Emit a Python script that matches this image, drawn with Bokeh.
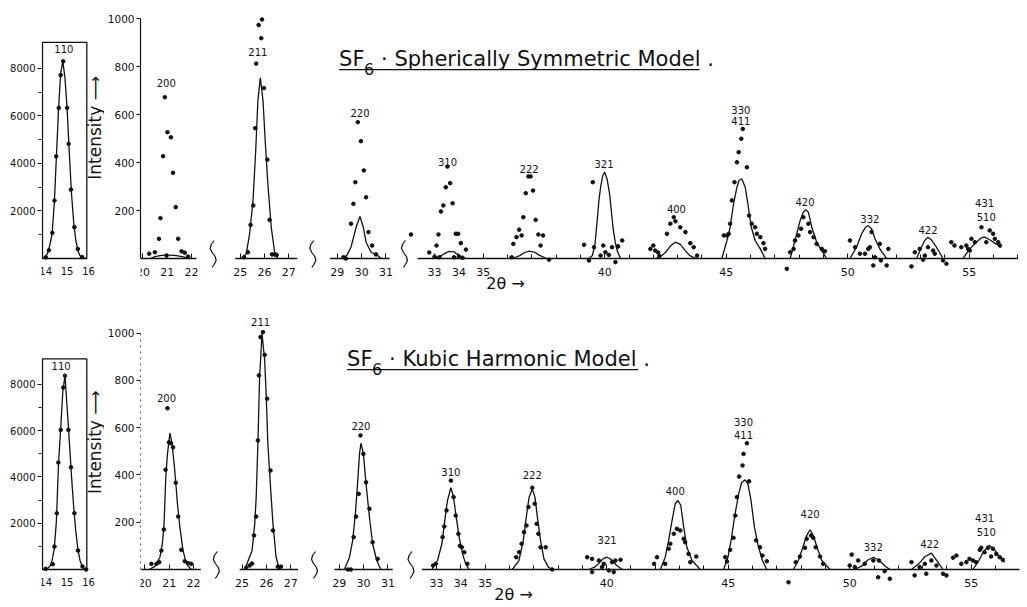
import math
from bokeh.plotting import figure
from bokeh.layouts import row, column
from bokeh.models import Range1d, FixedTicker
from bokeh.core.properties import value
from bokeh.embed import file_html
from bokeh.resources import INLINE

FONT = "DejaVu Sans"
INK = "#111111"

# ----------------------------------------------------------------- data
# 110 reflection (insets): fitted curve and observed points
SSM_110_FIT_X = [13.9, 14.0, 14.1, 14.2, 14.3, 14.4, 14.5, 14.6, 14.7, 14.8, 14.9, 15.0, 15.1, 15.2, 15.3, 15.4, 15.5, 15.6, 15.7, 15.8, 15.9]
SSM_110_FIT_Y = [0, 60, 250, 600, 1050, 2300, 4300, 6300, 7800, 8300, 7600, 6300, 4500, 2800, 1600, 800, 350, 120, 40, 10, 0]
SSM_110_OBS_X = [14.0, 14.15, 14.31, 14.41, 14.49, 14.61, 14.70, 14.82, 15.00, 15.07, 15.18, 15.34, 15.50, 15.70]
SSM_110_OBS_Y = [50, 350, 1080, 2440, 4300, 6340, 7720, 8300, 6340, 4830, 2900, 1320, 400, 60]

KHM_110_FIT_X = [13.9, 14.0, 14.1, 14.2, 14.3, 14.4, 14.5, 14.6, 14.7, 14.8, 14.9, 15.0, 15.1, 15.2, 15.3, 15.4, 15.5, 15.6, 15.7, 15.8, 15.9]
KHM_110_FIT_Y = [0, 20, 50, 150, 400, 900, 2100, 4600, 6100, 7700, 8370, 7000, 5600, 4100, 2800, 1700, 900, 400, 150, 40, 0]
KHM_110_OBS_X = [14.0, 14.33, 14.41, 14.52, 14.59, 14.70, 14.82, 14.90, 15.06, 15.18, 15.34, 15.51, 15.72, 15.89]
KHM_110_OBS_Y = [30, 230, 990, 2430, 4620, 6030, 7860, 8370, 6030, 4420, 2430, 820, 130, 0]

INSET_X_TICKS = [14, 15, 16]
INSET_Y_TICKS = [2000, 4000, 6000, 8000]
INSET_Y_MINOR = [1000, 3000, 5000, 7000]
MAIN_Y_TICKS = [200, 400, 600, 800, 1000]

# x-axis tick labels (2θ, degrees)
X_TICKS = [20, 21, 22, 25, 26, 27, 29, 30, 31, 33, 34, 35, 40, 45, 50, 55]
X_MINOR = [36, 37, 38, 39, 41, 42, 43, 44, 46, 47, 48, 49, 51, 52, 53, 54, 56, 57]

HKL = ["200", "211", "220", "310", "222", "321", "400", "330", "411", "420", "332", "422", "431", "510"]

# --- Spherically symmetric model (top)
SSM_FIT_X = [
    [20.3, 20.5, 20.7, 20.9, 21.1, 21.3, 21.5, 21.7, 21.9],
    [25.05, 25.25, 25.39, 25.53, 25.64, 25.73, 25.83, 25.94, 26.03, 26.14, 26.28, 26.42, 26.55],
    [29.2, 29.4, 29.56, 29.77, 29.93, 30.07, 30.18, 30.39, 30.66, 30.8],
    [32.9, 33.2, 33.4, 33.6, 33.8, 34.0, 34.3],
    [36.2, 36.5, 36.7, 36.9, 37.1, 37.3, 37.6],
    [39.35, 39.49, 39.6, 39.69, 39.76, 39.83, 39.92, 40.0, 40.1, 40.2, 40.27, 40.34, 40.43, 40.51, 40.65],
    [42.1, 42.3, 42.5, 42.7, 42.9, 43.1, 43.3, 43.5, 43.75],
    [44.82, 45.03, 45.16, 45.3, 45.44, 45.53, 45.64, 45.78, 45.89, 46.03, 46.19, 46.4, 46.6],
    [47.63, 47.83, 48.04, 48.17, 48.27, 48.38, 48.52, 48.72, 48.93, 49.13],
    [50.09, 50.36, 50.57, 50.73, 50.84, 50.98, 51.12, 51.32, 51.6],
    [52.83, 53.03, 53.17, 53.3, 53.44, 53.65, 53.92],
    [54.74, 55.02, 55.29, 55.5, 55.63, 55.84, 56.05, 56.32],
]
SSM_FIT_Y = [
    [0, 8, 12, 14, 14, 13, 10, 6, 0],
    [0, 19, 103, 242, 450, 658, 753, 658, 492, 311, 130, 26, 0],
    [0, 15, 47, 130, 175, 130, 68, 26, 12, 0],
    [0, 8, 20, 30, 28, 12, 0],
    [0, 12, 25, 31, 27, 14, 0],
    [0, 12, 60, 158, 240, 297, 345, 360, 330, 269, 200, 130, 70, 33, 0],
    [0, 8, 25, 52, 68, 60, 35, 12, 0],
    [0, 75, 130, 228, 297, 325, 332, 297, 228, 130, 75, 40, 0],
    [0, 75, 158, 193, 203, 193, 130, 68, 33, 0],
    [0, 47, 103, 130, 137, 124, 82, 40, 0],
    [0, 47, 75, 89, 78, 47, 0],
    [0, 40, 68, 86, 89, 78, 64, 47],
]
SSM_OBS_X = [
    20.90, 21.01, 21.15, 20.83, 21.24, 21.35, 20.72, 21.45, 20.66, 20.26, 20.49, 21.59, 21.72, 21.86, 20.97,
    25.90, 25.76, 25.87, 25.66, 25.98, 25.62, 26.12, 25.54, 26.21, 25.43, 25.32, 25.16, 26.31, 26.42, 26.50,
    29.84, 29.97, 30.09, 29.74, 30.18, 29.66, 29.56, 30.28, 30.43, 30.59, 29.25, 29.35,
    33.53, 33.64, 33.46, 33.74, 33.36, 33.26, 33.16, 33.87, 33.97, 33.08, 34.08, 34.29, 32.78, 32.03, 33.00, 33.20, 33.80, 34.00, 34.15,
    36.86, 36.95, 37.05, 36.75, 37.16, 36.65, 36.48, 36.58, 36.37, 37.27, 37.46, 36.24, 37.36, 36.17, 37.71,
    39.51, 39.15, 39.56, 39.94, 40.30, 40.55, 39.35, 39.83, 40.03, 40.17, 40.44, 40.72, 40.54,
    42.84, 42.91, 42.70, 42.56, 43.11, 43.32, 43.52, 43.66, 42.00, 42.08, 42.20, 43.80, 41.88, 42.25,
    45.68, 45.62, 45.51, 45.44, 45.85, 45.34, 45.23, 45.94, 45.16, 46.05, 46.19, 46.26, 45.10, 44.90, 45.03, 46.40, 46.53, 46.60,
    48.17, 48.38, 48.08, 48.45, 47.97, 48.59, 47.83, 48.72, 47.77, 48.93, 49.06, 47.49, 47.63,
    50.98, 50.91, 51.32, 51.67, 50.09, 50.30, 50.50, 50.71, 51.12, 51.05, 51.36, 51.60, 50.84,
    52.96, 53.30, 53.51, 53.17, 52.76, 52.62, 53.10, 53.92, 54.06, 54.26, 54.39, 53.58,
    55.50, 55.84, 55.98, 55.70, 56.05, 56.19, 56.26, 55.09, 55.23, 54.88, 54.95, 54.67, 55.02,
]
SSM_OBS_Y = [
    672, 526, 505, 426, 357, 214, 168, 82, 82, 20, 26, 30, 24, 8, 12,
    996, 973, 918, 812, 710, 543, 412, 221, 161, 140, 26, 5, 17, 17, 15,
    568, 489, 367, 318, 255, 228, 145, 110, 54, 17, 5, 0,
    383, 314, 297, 230, 221, 196, 100, 103, 103, 54, 64, 37, 25, 100, 8, 5, 5, 8, 3,
    342, 342, 283, 272, 161, 172, 120, 96, 89, 100, 96, 61, 54, 5, -5,
    318, 57, 47, 54, 47, 51, -8, 12, 26, 15, -15, 75, 50,
    172, 155, 145, 103, 130, 110, 64, 47, 54, 33, 25, 12, 40, 10,
    540, 499, 443, 401, 380, 318, 242, 179, 145, 145, 130, 103, 103, 96, 96, 89, 64, 40,
    172, 145, 124, 110, 96, 89, 75, 61, 40, 40, 30, -43, 26,
    110, 47, 61, 40, 75, 47, 20, 20, 5, -29, -8, -29, 40,
    40, 47, 33, 12, 26, -33, -5, -8, -22, 68, 54, 20,
    130, 117, 103, 68, 82, 68, 54, 82, 68, 54, 40, 47, 33,
]
SSM_HKL_X = [20.96, 25.73, 29.93, 33.53, 36.89, 39.97, 42.95, 45.60, 45.60, 48.24, 50.91, 53.30, 55.63, 55.70]
SSM_HKL_Y = [733, 860, 605, 404, 374, 394, 207, 617, 572, 235, 165, 120, 230, 172]

# --- Kubic harmonic model (bottom)
KHM_FIT_X = [
    [20.17, 20.40, 20.62, 20.72, 20.79, 20.86, 20.93, 21.03, 21.12, 21.23, 21.34, 21.44, 21.57, 21.71, 21.91],
    [25.11, 25.41, 25.52, 25.58, 25.65, 25.72, 25.82, 25.93, 25.99, 26.06, 26.17, 26.27, 26.40, 26.54],
    [29.21, 29.42, 29.55, 29.66, 29.76, 29.83, 29.89, 29.99, 30.10, 30.24, 30.37, 30.54, 30.71],
    [32.81, 33.04, 33.22, 33.34, 33.45, 33.59, 33.70, 33.79, 33.93, 34.07, 34.20, 34.34],
    [36.12, 36.39, 36.57, 36.69, 36.81, 36.94, 37.05, 37.15, 37.28, 37.42, 37.60, 37.76],
    [39.27, 39.50, 39.70, 39.85, 40.02, 40.20, 40.40, 40.64],
    [42.21, 42.41, 42.55, 42.69, 42.82, 42.93, 43.05, 43.17, 43.30, 43.51, 43.85],
    [44.81, 44.99, 45.12, 45.26, 45.43, 45.56, 45.70, 45.81, 45.94, 46.08, 46.25, 46.41, 46.59],
    [47.68, 47.89, 48.05, 48.23, 48.37, 48.50, 48.68, 48.85, 49.19],
    [50.21, 50.50, 50.75, 50.97, 51.20, 51.45, 51.65],
    [52.54, 52.85, 53.10, 53.36, 53.60, 53.84],
    [55.07, 55.30, 55.50, 55.75, 55.95, 56.15, 56.37],
]
KHM_FIT_Y = [
    [0, 12, 52, 109, 193, 390, 489, 577, 532, 419, 278, 180, 80, 24, 0],
    [0, 80, 193, 306, 532, 813, 997, 884, 743, 532, 348, 193, 52, 0],
    [0, 52, 123, 236, 376, 489, 534, 489, 362, 221, 109, 38, 0],
    [0, 38, 109, 207, 292, 346, 306, 236, 137, 66, 24, 0],
    [0, 38, 123, 221, 306, 341, 306, 221, 123, 45, 10, 0],
    [0, 10, 28, 45, 52, 42, 18, 0],
    [0, 52, 123, 207, 278, 292, 271, 179, 94, 38, 0],
    [0, 52, 123, 221, 320, 369, 379, 362, 292, 179, 94, 38, 0],
    [0, 38, 87, 144, 168, 144, 87, 38, 0],
    [0, 15, 40, 52, 40, 15, 0],
    [0, 25, 55, 69, 35, 0],
    [0, 35, 75, 102, 85, 55, 30],
]
KHM_OBS_X = [
    20.93, 20.99, 21.07, 21.16, 20.85, 21.27, 21.37, 20.78, 21.50, 20.68, 20.59, 20.48, 20.27, 21.64, 21.78, 21.91,
    25.86, 25.76, 25.93, 25.69, 26.03, 25.65, 26.17, 25.58, 26.27, 25.49, 25.41, 25.31, 25.17, 26.47, 26.60,
    29.87, 29.99, 29.80, 30.10, 29.69, 30.24, 29.59, 30.37, 30.58, 29.35, 29.48,
    33.59, 33.70, 33.41, 33.79, 33.32, 33.90, 33.25, 33.96, 34.04, 34.14, 34.27, 32.97, 32.86,
    36.94, 37.04, 36.78, 37.12, 36.70, 36.60, 37.19, 36.50, 37.28, 37.49, 36.40, 36.28, 37.76,
    39.20, 39.40, 39.68, 39.88, 40.22, 40.36, 40.57, 39.40, 39.81, 40.09, 40.29,
    42.89, 43.03, 42.76, 42.62, 43.17, 43.23, 42.55, 43.37, 43.44, 43.69, 42.07, 41.95, 42.41,
    45.77, 45.63, 45.59, 45.45, 45.86, 45.36, 45.29, 45.22, 46.15, 46.31, 45.08, 46.41, 46.59, 44.88, 44.95,
    48.41, 48.50, 48.23, 48.60, 48.16, 47.95, 48.78, 47.78, 48.91, 47.48,
    50.08, 50.35, 50.62, 50.97, 51.20, 51.17, 51.65, 51.44, 50.00, 50.21,
    52.54, 52.88, 53.09, 53.36, 53.57, 52.67, 53.15, 53.84, 53.98, 54.25, 54.39, 54.59, 54.80,
    55.69, 55.89, 55.55, 55.82, 56.03, 56.17, 56.30, 55.35, 55.41, 54.93, 55.07, 55.20,
]
KHM_OBS_Y = [
    682, 538, 534, 517, 422, 367, 224, 169, 83, 80, 31, 24, 24, 35, 27, 24,
    1004, 983, 908, 821, 722, 546, 419, 224, 165, 144, 25, 17, 7, 12, 12,
    567, 489, 320, 369, 224, 257, 137, 115, 45, 0, 0,
    376, 306, 250, 228, 182, 151, 137, 100, 94, 73, 24, 24, 17,
    346, 278, 264, 193, 186, 158, 151, 109, 94, 94, 73, 52, 0,
    52, 45, 38, 24, 31, 38, 41, -11, 10, -4, -11,
    172, 165, 151, 109, 130, 115, 88, 66, 31, 55, 52, 24, 24,
    534, 489, 440, 393, 373, 306, 228, 134, 123, 94, 83, 59, 35, 52, 34,
    144, 134, 130, 94, 92, 55, 55, 31, 24, -54,
    63, 38, 24, 38, 38, -33, -39, -7, 17, 10,
    31, 10, 24, 38, 17, -25, -18, -18, -25, 50, 59, 24, 31,
    92, 88, 73, 55, 66, 52, 41, 83, 92, 45, 38, 31,
]
KHM_HKL_X = [20.89, 25.76, 29.89, 33.59, 36.94, 40.02, 42.82, 45.63, 45.63, 48.37, 50.97, 53.29, 55.55, 55.62]
KHM_HKL_Y = [726, 1046, 605, 412, 398, 123, 331, 623, 567, 236, 97, 109, 219, 158]

# ----------------------------------------------------------------- layout
PX_PER_DEG = 24.36          # horizontal scale of the main panels
INSET_PX_PER_DEG = 21.4     # horizontal scale of the insets
SEG_A_SHIFT = 1.0           # the 20-22 degree segment is drawn shifted right
INSET_BOX = (13.85, 15.92, 9100)
SQ_DX = [1, -2, -3, -1, 2, 3, 1, -1]     # axis-break squiggle shape (px)
SQ_DY = [18, 14, 10, 6, 2, -2, -6, -9]


def disp(xs):
    return [x + SEG_A_SHIFT if x < 23.5 else x for x in xs]


def base_fig(width, height, xr, yr, mbl, mbr, mbt):
    p = figure(width=width, height=height, x_range=xr, y_range=yr, x_axis_location="above",
               output_backend="svg", toolbar_location=None,
               min_border_left=mbl, min_border_right=mbr, min_border_top=mbt, min_border_bottom=0)
    p.grid.visible = False
    p.outline_line_color = None
    p.background_fill_color = "white"
    p.border_fill_color = "white"
    for ax in (p.xaxis[0], p.yaxis[0]):
        ax.major_label_text_font = FONT
        ax.major_label_text_color = INK
        ax.axis_line_color = INK
        ax.major_tick_line_color = INK
        ax.minor_tick_line_color = INK
    return p


def make_inset(fit_x, fit_y, obs_x, obs_y, lab_x, lab_y, cfg):
    ipp = cfg["inset_ipp"]
    x0 = INSET_BOX[0] - 1 / INSET_PX_PER_DEG
    p = base_fig(104, cfg["height"], Range1d(x0, x0 + 63 / INSET_PX_PER_DEG),
                 Range1d(-cfg["below_px"] * ipp, cfg["above_px"] * ipp), 41, 0, 8)
    xa, ya = p.xaxis[0], p.yaxis[0]
    xa.fixed_location = 0
    xa.ticker = FixedTicker(ticks=INSET_X_TICKS)
    xa.axis_line_color = None
    xa.major_tick_in, xa.major_tick_out = 0, 0
    xa.minor_tick_in, xa.minor_tick_out = 0, 0
    xa.major_label_standoff = -16
    xa.major_label_text_font_size = "10px"
    ya.ticker = FixedTicker(ticks=INSET_Y_TICKS, minor_ticks=INSET_Y_MINOR)
    ya.axis_line_color = None
    ya.major_tick_in, ya.major_tick_out = 0, 4
    ya.minor_tick_in, ya.minor_tick_out = 0, 3
    ya.major_label_standoff = 2
    ya.major_label_text_font_size = "10px"

    p.quad(left=[INSET_BOX[0]], right=[INSET_BOX[1]], bottom=[0], top=[INSET_BOX[2]],
           fill_color=None, line_color=INK, line_width=1.3)
    p.line(fit_x, fit_y, line_color=INK, line_width=1.3)
    p.scatter(obs_x, obs_y, size=3.6, color=INK)
    p.text(x=[lab_x], y=[lab_y], text=["110"], text_font=value(FONT), text_font_size="10px",
           text_align="center", text_baseline="middle", text_color=INK)
    p.text(x=[x0 + 53 / INSET_PX_PER_DEG], y=[cfg["int_y"]], text=["Intensity \u27f6"], angle=math.pi / 2,
           text_font=value(FONT), text_font_size="17px", text_align="center", text_baseline="middle",
           text_color=INK)
    return p


def make_main(fit_x, fit_y, obs_x, obs_y, hkl_x, hkl_y, cfg):
    x0 = cfg["x0"]
    ipp = cfg["ipp"]
    p = base_fig(918, cfg["height"], Range1d(x0, x0 + 881 / PX_PER_DEG),
                 Range1d(-cfg["below_px"] * ipp, cfg["above_px"] * ipp), 34, 3, 8)
    xa, ya = p.xaxis[0], p.yaxis[0]
    xa.fixed_location = 0
    xa.ticker = FixedTicker(ticks=disp(X_TICKS), minor_ticks=X_MINOR)
    xa.major_label_overrides = {u: str(t) for u, t in zip(disp(X_TICKS), X_TICKS)}
    xa.axis_line_color = None
    xa.major_tick_in, xa.major_tick_out = 0, 5
    xa.minor_tick_in, xa.minor_tick_out = 0, 4
    xa.major_label_standoff = -22
    xa.major_label_text_font_size = "11px"

    ya.ticker = FixedTicker(ticks=MAIN_Y_TICKS)
    ya.bounds = (0, 1000)
    ya.major_tick_in, ya.major_tick_out = 0, 4
    ya.minor_tick_in, ya.minor_tick_out = 0, 0
    ya.major_label_standoff = 2
    ya.major_label_text_font_size = "10.5px"
    ya.axis_line_color = cfg["yaxis_color"]
    ya.axis_line_dash = cfg["yaxis_dash"]
    ya.axis_line_width = 1.2

    # broken base line and break marks
    segs = cfg["segments"]
    p.segment(x0=[s[0] for s in segs], y0=[0] * len(segs), x1=[s[1] for s in segs], y1=[0] * len(segs),
              line_color=INK, line_width=1.3)
    sq_x = [[b + dx / PX_PER_DEG for dx in SQ_DX] for b in cfg["breaks"]]
    sq_y = [[dy * ipp for dy in SQ_DY] for _ in cfg["breaks"]]
    p.multi_line(sq_x, sq_y, line_color=INK, line_width=1.2)

    # fitted curves and observed points
    p.multi_line([disp(x) for x in fit_x], fit_y, line_color=INK, line_width=1.3)
    p.scatter(disp(obs_x), obs_y, size=3.6, color=INK)

    # reflection labels
    p.text(x=disp(hkl_x), y=hkl_y, text=HKL, text_font=value(FONT), text_font_size="10px",
           text_align="center", text_baseline="middle", text_color=INK)

    # title (centre line of the capitals at title_xy)
    tx, ty = cfg["title_xy"]
    p.text(x=[tx], y=[ty], text=["SF"], text_font=value(FONT), text_font_size="21px",
           text_baseline="middle", text_color=INK)
    p.text(x=[tx], y=[ty], text=["6"], text_font=value(FONT), text_font_size="16px",
           text_baseline="middle", text_color=INK, x_offset=25, y_offset=10)
    p.text(x=[tx], y=[ty], text=[cfg["title"]], text_font=value(FONT), text_font_size="21px",
           text_baseline="middle", text_color=INK, x_offset=42)
    uy = ty - 11 * ipp
    p.line([tx, cfg["ul_end"]], [uy, uy], line_color=INK, line_width=1.2)

    # x-axis caption
    p.text(x=[cfg["tt_xy"][0]], y=[cfg["tt_xy"][1]], text=["2\u03b8 \u2192"], text_font=value(FONT),
           text_font_size="16px", text_align="center", text_baseline="middle", text_color=INK)
    return p


top_cfg = dict(height=292, x0=20.9, ipp=4.1667, inset_ipp=42.1, above_px=250, below_px=34,
               segments=[(20.9, 23.2), (24.8, 27.35), (28.7, 31.15), (32.3, 57.0)],
               breaks=[23.89, 27.99, 31.76],
               yaxis_color=INK, yaxis_dash="solid",
               title_xy=(29.07, 833), title="\u00b7 Spherically Symmetric Model .", ul_end=43.9,
               int_y=5500, tt_xy=(35.92, -104))
bot_cfg = dict(height=314, x0=20.82, ipp=4.23, inset_ipp=43.2, above_px=269, below_px=37,
               segments=[(20.85, 23.3), (24.9, 27.3), (28.8, 31.2), (32.4, 57.0)],
               breaks=[23.94, 27.98, 31.95],
               yaxis_color="#666666", yaxis_dash="dotted",
               title_xy=(29.32, 892), title="\u00b7 Kubic Harmonic Model .", ul_end=41.3,
               int_y=5500, tt_xy=(36.17, -106))

inset_top = make_inset(SSM_110_FIT_X, SSM_110_FIT_Y, SSM_110_OBS_X, SSM_110_OBS_Y, 14.85, 8800, top_cfg)
main_top = make_main(SSM_FIT_X, SSM_FIT_Y, SSM_OBS_X, SSM_OBS_Y, SSM_HKL_X, SSM_HKL_Y, top_cfg)
inset_bot = make_inset(KHM_110_FIT_X, KHM_110_FIT_Y, KHM_110_OBS_X, KHM_110_OBS_Y, 14.72, 8800, bot_cfg)
main_bot = make_main(KHM_FIT_X, KHM_FIT_Y, KHM_OBS_X, KHM_OBS_Y, KHM_HKL_X, KHM_HKL_Y, bot_cfg)

layout = column(row(inset_top, main_top), row(inset_bot, main_bot))
open("out.html", "w").write(file_html(layout, INLINE))
